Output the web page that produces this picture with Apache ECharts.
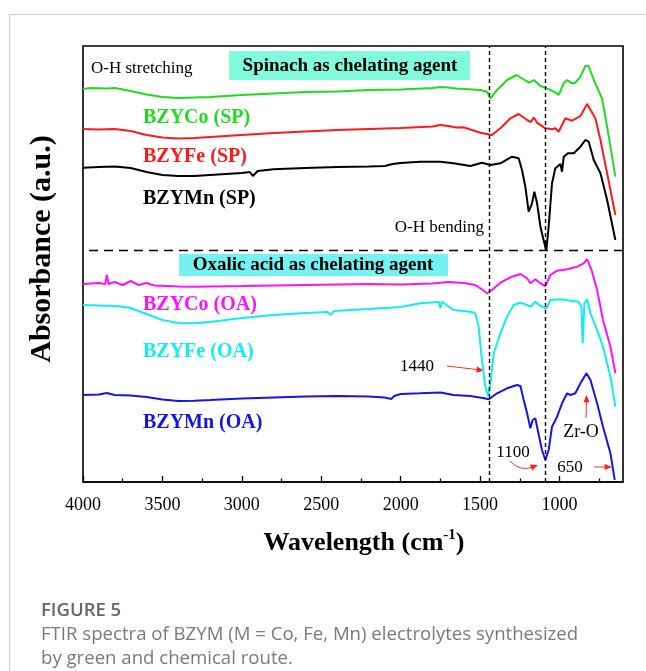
<!DOCTYPE html>
<html><head><meta charset="utf-8">
<script src="https://cdn.jsdelivr.net/npm/echarts@6/dist/echarts.min.js"></script>
<style>html,body{margin:0;padding:0;background:#fff}#c{width:646px;height:671px}</style>
</head><body><div id="c"></div>
<script>
// ---- axis ticks ----
const tickLabelValues = [1000, 1500, 2000, 2500, 3000, 3500, 4000];
const minorTickValues = [750, 1250, 1750, 2250, 2750, 3250, 3750];
// ---- reference lines ----
const bandLines = [1440, 1090];
const separatorLevel = 231.3;
// ---- spectra: [wavenumber (cm-1), absorbance (a.u., offset)] ----
const bzyCoSP = [[4000,393],[3950,394],[3850,393.5],[3800,394],[3750,392.5],[3700,391],[3600,387.5],[3500,385],[3400,384],[3300,384.5],[3200,385],[3000,387],[2800,388.5],[2600,390],[2400,390.5],[2200,392],[2000,392.5],[1800,394],[1750,395],[1700,394.5],[1650,393.5],[1600,393],[1500,392],[1456,390.3],[1435,383.7],[1393,392],[1330,402],[1270,407],[1230,403],[1190,399.3],[1160,402],[1120,396],[1080,393.7],[1036,390.3],[1005,387],[973,398.7],[952,402],[921,398.7],[900,399.3],[868,405.3],[837,416],[816,416],[784,402],[732,383.7],[700,355.3],[648,305.3]];
const bzyFeSP = [[4000,353],[3900,352.5],[3800,353],[3700,351],[3600,347],[3500,344.5],[3400,343.5],[3300,344],[3200,345],[3000,347],[2800,349],[2600,350.5],[2400,352],[2200,353],[2000,354],[1800,355.5],[1750,357],[1700,356],[1650,354.5],[1604,354.7],[1498,349.3],[1425,347],[1372,353.7],[1309,363.7],[1257,368],[1204,362],[1180,360],[1162,364.5],[1141,359.3],[1089,353.7],[1047,352.7],[1026,353.7],[1005,350.3],[963,363.7],[921,361.3],[868,366],[826,378],[774,363.7],[742,342],[700,308.7],[648,267]];
const bzyMnSP = [[4000,314.3],[3900,315],[3800,315.5],[3700,314],[3600,310],[3500,307],[3400,306],[3300,306],[3200,307],[3000,309],[2950,310],[2930,306],[2900,311],[2800,312.7],[2600,314],[2400,315],[2200,315.5],[2100,316],[2050,318],[2000,319],[1877,320.3],[1750,320.3],[1667,318.7],[1561,316],[1488,319.3],[1435,317],[1372,318.7],[1299,325.3],[1257,323.7],[1236,312],[1215,295.3],[1194,270.3],[1173,278.7],[1158,290.3],[1141,278.7],[1120,255.3],[1100,242],[1083,231.3],[1068,255.3],[1047,298.7],[1026,313.7],[994,318],[984,310.3],[973,325.3],[947,328.7],[910,328.7],[889,332],[868,335.3],[837,342],[816,340.3],[784,322],[742,308.7],[700,282],[648,242]];
const bzyCoOA = [[4000,198],[3900,199],[3860,198],[3850,207],[3840,198],[3800,200],[3750,197],[3700,201],[3650,197],[3600,199],[3550,196.5],[3400,195.5],[3300,195.3],[3000,196],[2800,196.5],[2600,197],[2400,197.5],[2200,198],[2000,197.5],[1800,198.5],[1700,200],[1600,199],[1530,197],[1498,193.7],[1456,188.7],[1425,192],[1372,199.3],[1309,204.7],[1246,208],[1204,203.7],[1183,198.7],[1152,202.7],[1120,198.7],[1089,196],[1057,207],[1015,211.3],[952,212.7],[889,215.3],[847,218.7],[826,223],[795,210.3],[763,192],[726,162],[679,135.3],[648,108.7]];
const bzyFeOA = [[4000,177],[3900,176.5],[3800,176],[3750,175.3],[3700,174],[3600,168],[3500,162],[3400,159],[3300,158.7],[3200,160],[3000,164],[2800,167],[2600,169],[2460,170],[2440,167],[2420,171],[2200,173],[2000,175],[1877,178.7],[1760,180],[1750,174],[1740,180.3],[1667,172],[1561,170.3],[1530,168.7],[1509,155.3],[1488,122],[1467,95.3],[1450,86],[1435,98.7],[1414,128.7],[1372,148.7],[1330,165.3],[1288,177],[1246,179.3],[1204,177],[1183,175.3],[1152,180.3],[1120,176],[1082,173.7],[1057,182],[994,182.7],[931,181.3],[879,180.3],[862,175.3],[854,138.7],[843,178.7],[826,182.7],[805,168.7],[763,152],[726,135.3],[679,105.3],[648,75.3]];
const bzyMnOA = [[4000,87],[3900,87.5],[3850,89],[3800,87],[3700,86.5],[3600,85],[3500,82.5],[3400,81],[3300,81.3],[3200,82],[3000,83.5],[2800,84.5],[2600,85.5],[2400,86],[2200,85.5],[2100,84.5],[2060,83],[2040,86],[2000,88],[1877,88.7],[1750,89.5],[1667,87],[1561,86],[1473,83.7],[1445,82.7],[1393,88.7],[1330,93.7],[1267,97],[1246,96],[1225,82],[1204,68.7],[1183,53.7],[1169,62],[1152,63.7],[1137,52],[1110,32],[1089,22],[1068,32],[1047,55.3],[1015,65.3],[984,78.7],[952,88.7],[931,87],[900,88.7],[868,98.7],[830,108.7],[805,102],[763,78.7],[726,55.3],[679,28.7],[652,2]];

const seriesNames = ['BZYCo (SP)','BZYFe (SP)','BZYMn (SP)','BZYCo (OA)','BZYFe (OA)','BZYMn (OA)'];
const seriesData = [bzyCoSP, bzyFeSP, bzyMnSP, bzyCoOA, bzyFeOA, bzyMnOA];
const colors = ['#1fdc1f','#ff1a1a','#000000','#ff10ff','#10eeee','#1414ee'];

const SERIF = '"Liberation Serif", "Times New Roman", serif';
const chart = echarts.init(document.getElementById('c'), null, {renderer:'canvas'});

const ctx = document.createElement('canvas').getContext('2d');
function tw(t, font){ ctx.font = font; return ctx.measureText(t).width; }

function txt(x, y, text, font, fill, align, extra){
  return Object.assign({type:'text', x, y, silent:true, style:{text, font, fill, align: align||'left', verticalAlign:'middle'}}, extra||{});
}
function head(x, y, ang, s){
  const a1 = ang + Math.PI - 0.4, a2 = ang + Math.PI + 0.4;
  return {type:'polygon', silent:true, shape:{points:[[x,y],[x+s*Math.cos(a1), y+s*Math.sin(a1)],[x+s*Math.cos(a2), y+s*Math.sin(a2)]]}, style:{fill:'#ff2020'}};
}
const RED = '#ff3030';
const g = [];
// outer frame
g.push({type:'line', silent:true, shape:{x1:9.5,y1:14.5,x2:646,y2:14.5}, style:{stroke:'#cfcfcf', lineWidth:1}});
g.push({type:'line', silent:true, shape:{x1:9.5,y1:14.5,x2:9.5,y2:671}, style:{stroke:'#cfcfcf', lineWidth:1}});
// boxes
g.push({type:'rect', silent:true, shape:{x:229,y:51,width:241,height:29}, style:{fill:'#80fcdc'}});
g.push(txt(350, 66, 'Spinach as chelating agent', 'bold 19px '+SERIF, '#000', 'center'));
g.push({type:'rect', silent:true, shape:{x:179,y:254,width:269,height:22}, style:{fill:'#74f2f2'}});
g.push(txt(313, 265, 'Oxalic acid as chelating agent', 'bold 19px '+SERIF, '#000', 'center'));
g.push(txt(91, 69, 'O-H stretching', '17px '+SERIF, '#000'));
g.push(txt(484, 228, 'O-H bending', '17px '+SERIF, '#000', 'right'));
// series labels
const labelY = [118, 157, 199, 305, 352, 423];
seriesNames.forEach((n,i)=> g.push(txt(143, labelY[i], n, 'bold 20px '+SERIF, colors[i])));
// peak annotations
g.push(txt(434, 367, '1440', '17px '+SERIF, '#000', 'right'));
g.push({type:'line', silent:true, shape:{x1:447,y1:366,x2:481,y2:370}, style:{stroke:RED, lineWidth:1}});
g.push(head(484, 370.5, Math.atan2(4,34), 8));
g.push(txt(513, 453, '1100', '17px '+SERIF, '#000', 'center'));
g.push({type:'bezierCurve', silent:true, shape:{x1:510,y1:461,cpx1:520,cpy1:472,x2:533,y2:467}, style:{stroke:RED, lineWidth:1, fill:null}});
g.push(head(538, 465, -0.35, 8));
g.push(txt(570, 468, '650', '17px '+SERIF, '#000', 'center'));
g.push({type:'line', silent:true, shape:{x1:594,y1:467,x2:608,y2:467}, style:{stroke:RED, lineWidth:1}});
g.push(head(612, 467, 0, 8));
g.push(txt(581, 432, 'Zr-O', '18px '+SERIF, '#000', 'center'));
g.push({type:'line', silent:true, shape:{x1:586,y1:418,x2:586.5,y2:400}, style:{stroke:RED, lineWidth:1}});
g.push(head(586.5, 395, -Math.PI/2, 8));
// axis titles
g.push(txt(42, 249, 'Absorbance (a.u.)', 'bold 30px '+SERIF, '#000', 'center', {rotation: Math.PI/2}));
const f1 = 'bold 26px '+SERIF, f2 = 'bold 15px '+SERIF;
const w1 = tw('Wavelength (cm', f1), w2 = tw('-1', f2), w3 = tw(')', f1);
let sx = 364 - (w1+w2+w3)/2;
g.push(txt(sx, 543, 'Wavelength (cm', f1, '#000'));
g.push(txt(sx+w1, 535, '-1', f2, '#000'));
g.push(txt(sx+w1+w2, 543, ')', f1, '#000'));
// caption
const CAP = '"Open Sans", "Noto Sans", sans-serif';
g.push(txt(41, 611, 'FIGURE 5', '600 18.5px '+CAP, '#666'));
g.push(txt(41, 635, 'FTIR spectra of BZYM (M = Co, Fe, Mn) electrolytes synthesized', '18.6px '+CAP, '#7a7a7a'));
g.push(txt(41, 659, 'by green and chemical route.', '18.6px '+CAP, '#7a7a7a'));

const series = seriesData.map((d,i)=>({
  name: seriesNames[i], type:'line', data:d, showSymbol:false, smooth:false,
  lineStyle:{color:colors[i], width:2}, itemStyle:{color:colors[i]}, z:3
}));
series.push({
  type:'line', data:[], silent:true,
  markLine:{silent:true, symbol:'none', label:{show:false}, animation:false,
    data:[
      ...bandLines.map(v=>({xAxis:v, lineStyle:{type:[4,3], color:'#000', width:1.4}})),
      {yAxis:separatorLevel, lineStyle:{type:[9,6], color:'#000', width:1.4}}
    ]}
});

chart.setOption({
  animation:false,
  backgroundColor:'#fff',
  grid:{left:83, right:23, top:46, bottom:189, show:true, borderColor:'#000', borderWidth:1.6, backgroundColor:'transparent'},
  xAxis:[{type:'value', min:600, max:4000, inverse:true,
    axisLine:{show:true, lineStyle:{color:'#000', width:1.6}},
    axisTick:{show:true, inside:true, length:6, customValues:tickLabelValues, lineStyle:{color:'#000', width:1.3}},
    axisLabel:{customValues:tickLabelValues, margin:14, color:'#000', fontSize:18, fontFamily:SERIF, formatter: v => String(v)},
    splitLine:{show:false}},
   {type:'value', min:600, max:4000, inverse:true, position:'bottom',
    axisLine:{show:false},
    axisTick:{show:true, inside:true, length:3.5, customValues:minorTickValues, lineStyle:{color:'#000', width:1.3}},
    axisLabel:{show:false}, splitLine:{show:false}}],
  yAxis:{type:'value', min:0, max:436, axisLine:{show:false}, axisTick:{show:false}, axisLabel:{show:false}, splitLine:{show:false}},
  series,
  graphic: g
});
</script></body></html>
